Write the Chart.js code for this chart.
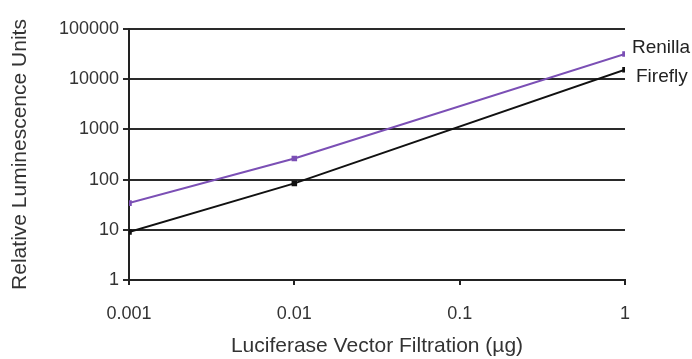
<!DOCTYPE html>
<html>
<head>
<meta charset="utf-8">
<script src="https://cdn.jsdelivr.net/npm/chart.js@4.4.1/dist/chart.umd.min.js"></script>
<style>
    html, body { margin: 0; padding: 0; background: #fff; }
    #wrap { width: 692px; height: 359px; }
</style>
</head>
<body>
<div id="wrap"><canvas id="myChart"></canvas></div>
<script>
const doses = [0.001, 0.01, 1];
const renilla = [34, 263, 31700];
const firefly = [9, 84, 15400];
const xTicks = [0.001, 0.01, 0.1, 1];
const yTicks = [1, 10, 100, 1000, 10000, 100000];
const seriesNames = ['Renilla', 'Firefly'];

Chart.defaults.font.family = "'Liberation Sans', Arial, sans-serif";
Chart.defaults.color = '#333';

// names written at the end of each line
const endLabels = {
    id: 'endLabels',
    afterDatasetsDraw(chart) {
        const c = chart.ctx;
        const x = chart.scales.x;
        const y = chart.scales.y;
        c.save();
        c.font = "19px 'Liberation Sans', Arial, sans-serif";
        c.fillStyle = '#222';
        c.textBaseline = 'middle';
        chart.data.datasets.forEach(function(ds, i) {
            const last = ds.data[ds.data.length - 1];
            const px = x.getPixelForValue(last.x);
            const py = y.getPixelForValue(last.y);
            c.fillText(seriesNames[i], px + (i == 0 ? 7 : 11), py + (i == 0 ? -6 : 7));
        });
        c.restore();
    }
};

function pts(values) {
    return doses.map(function(d, i) { return { x: d, y: values[i] }; });
}

new Chart(document.getElementById('myChart'), {
    type: 'line',
    data: {
        datasets: [{
            label: seriesNames[0],
            data: pts(renilla),
            borderColor: '#7b4fb5',
            backgroundColor: '#7b4fb5',
            borderWidth: 2,
            pointStyle: 'rect',
            pointRadius: 2.5,
            tension: 0
        }, {
            label: seriesNames[1],
            data: pts(firefly),
            borderColor: '#111',
            backgroundColor: '#111',
            borderWidth: 2,
            pointStyle: 'rect',
            pointRadius: 2.5,
            tension: 0
        }]
    },
    options: {
        responsive: true,
        maintainAspectRatio: false,
        animation: false,
        layout: { padding: { top: 29, right: 67, bottom: 0, left: 0 } },
        plugins: {
            legend: false,
            tooltip: { enabled: false }
        },
        scales: {
            x: {
                type: 'logarithmic',
                min: 0.001,
                max: 1,
                afterBuildTicks: function(axis) {
                    axis.ticks = xTicks.map(function(v) { return { value: v }; });
                },
                afterFit: function(axis) { axis.height = 79; },
                ticks: {
                    font: { size: 18 },
                    color: '#333',
                    padding: 18,
                    maxRotation: 0,
                    callback: function(v) { return String(v); }
                },
                grid: {
                    drawOnChartArea: false,
                    drawTicks: true,
                    tickLength: 5,
                    color: '#222',
                    lineWidth: 2
                },
                border: { display: true, color: '#222', width: 2 },
                title: {
                    display: true,
                    text: 'Luciferase Vector Filtration (µg)',
                    font: { size: 21 },
                    color: '#333',
                    padding: { top: 0, bottom: 0 }
                }
            },
            y: {
                type: 'logarithmic',
                min: 1,
                max: 100000,
                afterBuildTicks: function(axis) {
                    axis.ticks = yTicks.map(function(v) { return { value: v }; });
                },
                afterFit: function(axis) { axis.width = 129; },
                ticks: {
                    font: { size: 18 },
                    color: '#333',
                    padding: 4,
                    callback: function(v) { return String(v); }
                },
                grid: {
                    drawTicks: true,
                    tickLength: 6,
                    color: '#2a2a2a',
                    lineWidth: 2
                },
                border: { display: true, color: '#222', width: 2 },
                title: {
                    display: true,
                    text: 'Relative Luminescence Units',
                    font: { size: 21 },
                    color: '#333',
                    padding: { top: 8, bottom: 0 }
                }
            }
        }
    },
    plugins: [endLabels]
});
</script>
</body>
</html>
